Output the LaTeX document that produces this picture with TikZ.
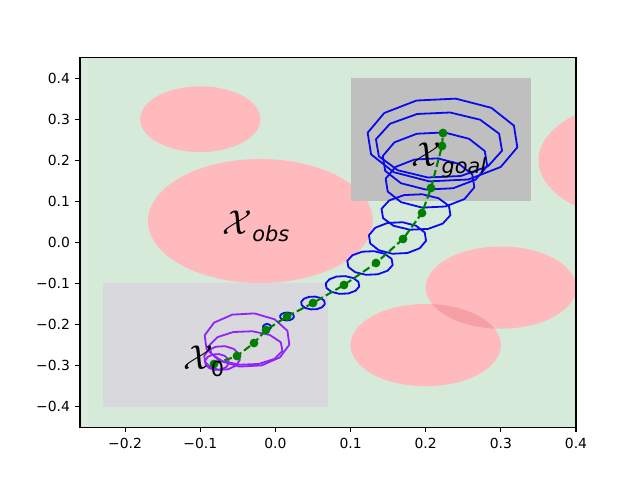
\documentclass[tikz,border=0pt]{standalone}
\usepackage{fontspec}
\setmainfont{DejaVu Sans}
\definecolor{bggreen}{RGB}{214,234,218}
\definecolor{bgedge}{RGB}{219,236,222}
\definecolor{pinkfill}{RGB}{255,186,190}
\definecolor{pinkdark}{RGB}{246,160,166}
\definecolor{goalgrey}{RGB}{191,191,191}
\definecolor{startgrey}{RGB}{217,217,221}
\definecolor{polyblue}{RGB}{10,10,240}
\definecolor{polypurple}{RGB}{145,35,250}
\definecolor{trajgreen}{RGB}{0,128,0}
\newcommand\epoly[5]{\draw[#1] plot[samples at={10,40,...,340}] ({#2+#4*cos(\x)},{#3+#5*sin(\x)}) -- cycle;}
\begin{document}
\begin{tikzpicture}[x=0.72pt,y=0.72pt,
  bluepoly/.style={draw=polyblue,line width=1.3pt,line join=round},
  purppoly/.style={draw=polypurple,line width=1.3pt,line join=round},
  traj/.style={draw=trajgreen,line width=1.5pt,dash pattern=on 5.55pt off 2.4pt},
  dot/.style={fill=trajgreen},
  tick/.style={line width=0.8pt},
  ticklab/.style={font=\fontsize{10}{12}\selectfont,inner sep=0pt},
  biglab/.style={inner sep=0pt}]
\useasboundingbox (0,0) rectangle (640,480);
\fill[white] (0,0) rectangle (640,480);
\begin{scope}[shift={(0,480)},yscale=-1]
  \begin{scope}
    \clip (80,57.6) rectangle (576,427.2);
    \fill[bgedge] (80,57.6) rectangle (576,427.2);
    \fill[bggreen] (88,57.6) rectangle (576,427.2);
    % obstacles
    \fill[pinkfill] (200.25,119.2) ellipse [x radius=60.1, y radius=32.9];
    \fill[pinkfill] (260.4,221) ellipse [x radius=112.4, y radius=62];
    \fill[pinkfill] (651.2,160.3) ellipse [x radius=112.7, y radius=61.6];
    \fill[pinkfill] (500.9,287.6) ellipse [x radius=75.15, y radius=41.1];
    \fill[pinkfill] (425.7,345.1) ellipse [x radius=75.15, y radius=41.1];
    \begin{scope}
      \clip (500.9,287.6) ellipse [x radius=75.15, y radius=41.1];
      \fill[pinkdark] (425.7,345.1) ellipse [x radius=75.15, y radius=41.1];
    \end{scope}
    % regions
    \fill[goalgrey] (350.55,78.1) rectangle (530.9,201.3);
    \fill[startgrey] (102.6,283.5) rectangle (328,406.7);
    % purple uncertainty polygons
    \epoly{purppoly}{247}{340}{43}{27}
    \epoly{purppoly}{246}{348}{37}{17}
    \epoly{purppoly}{222}{358}{18}{12}
    \epoly{purppoly}{217}{362}{12}{8}
    % blue uncertainty polygons
    \epoly{bluepoly}{267}{327}{4}{3}
    \epoly{bluepoly}{287}{316.5}{7}{4}
    \epoly{bluepoly}{313}{303}{12}{6.5}
    \epoly{bluepoly}{342.5}{285}{17}{9}
    \epoly{bluepoly}{370}{263}{23}{12}
    \epoly{bluepoly}{397.5}{238}{29}{16}
    \epoly{bluepoly}{416}{212}{35}{18}
    \epoly{bluepoly}{430}{183}{45}{25}
    \epoly{bluepoly}{435}{161}{53}{29}
    \epoly{bluepoly}{439}{145}{64}{33}
    \epoly{bluepoly}{442.5}{140}{76}{42}
    % trajectory
    \draw[traj] plot coordinates {(214,364) (237,356) (254,343) (266,330) (287,316.5) (313,303) (344,285) (376,263) (403,239) (422,213) (431,188) (442,146) (443,133)};
    \foreach \p in {(214,364),(237,356),(254,343),(266,330),(287,316.5),(313,303),(344,285),(376,263),(403,239),(422,213),(431,188),(442,146),(443,133)}
      \fill[dot] \p circle (4.4);
  \end{scope}
  % labels
  \node[biglab] (lobs) at (256,226) {\fontsize{24}{28}\selectfont$\mathcal{X}$\raisebox{-5pt}{\fontsize{15}{15}\selectfont\itshape obs}};
  \node[biglab] (lgoal) at (449,160) {\fontsize{24}{28}\selectfont$\mathcal{X}$\raisebox{-5pt}{\fontsize{15}{15}\selectfont\itshape goal}};
  \node[biglab] (lzero) at (204,361) {\fontsize{24}{28}\selectfont$\mathcal{X}$\kern-2pt\raisebox{-5pt}{\fontsize{15}{15}\selectfont 0}};
  % axes frame
  \draw[tick] (80,57.6) rectangle (576,427.2);
  % x ticks
  \foreach \v/\t in {-0.2/{−0.2},-0.1/{−0.1},0.0/{0.0},0.1/{0.1},0.2/{0.2},0.3/{0.3},0.4/{0.4}} {
    \pgfmathsetmacro\px{275.4+751.5*\v}
    \draw[tick] (\px,427.2) -- (\px,432.1);
    \node[ticklab,anchor=north] at (\px,437.5) {\t};
  }
  % y ticks
  \foreach \v/\t in {-0.4/{−0.4},-0.3/{−0.3},-0.2/{−0.2},-0.1/{−0.1},0.0/{0.0},0.1/{0.1},0.2/{0.2},0.3/{0.3},0.4/{0.4}} {
    \pgfmathsetmacro\py{242.4-410.7*\v}
    \draw[tick] (80,\py) -- (75.1,\py);
    \node[ticklab,anchor=east] at (70.2,\py) {\t};
  }
\end{scope}
\end{tikzpicture}
\end{document}
